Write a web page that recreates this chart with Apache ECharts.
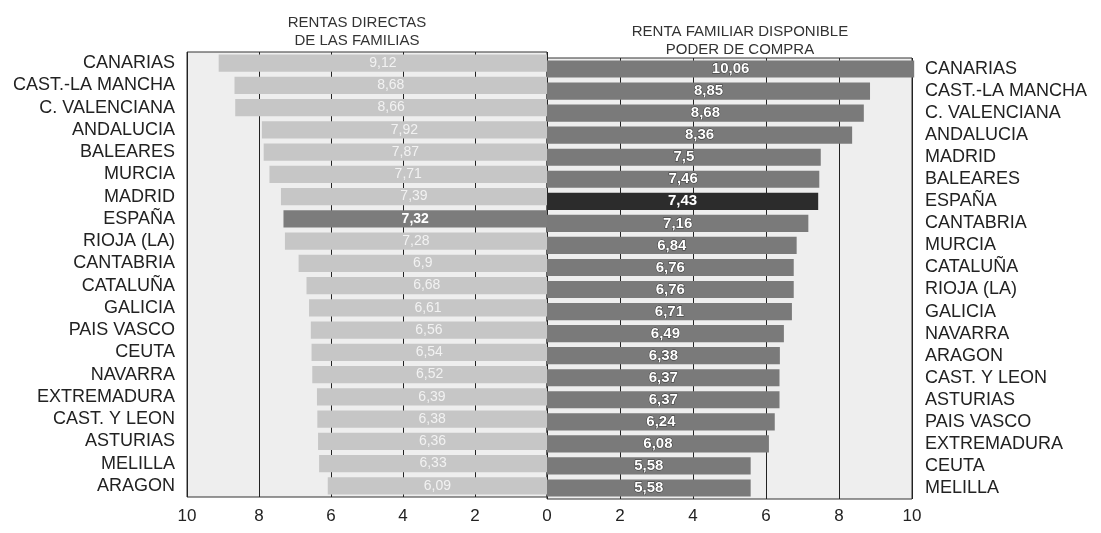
<!DOCTYPE html>
<html>
<head>
<meta charset="utf-8">
<script src="https://cdn.jsdelivr.net/npm/echarts@6/dist/echarts.min.js"></script>
<style>html,body{margin:0;padding:0;background:#fff;}#c{width:1101px;height:533px;}</style>
</head>
<body>
<div id="c"></div>
<script>
var leftTitle = 'RENTAS DIRECTAS\nDE LAS FAMILIAS';
var rightTitle = 'RENTA FAMILIAR DISPONIBLE\nPODER DE COMPRA';
var leftCategories = ['CANARIAS','CAST.-LA MANCHA','C. VALENCIANA','ANDALUCIA','BALEARES','MURCIA','MADRID','ESPAÑA','RIOJA (LA)','CANTABRIA','CATALUÑA','GALICIA','PAIS VASCO','CEUTA','NAVARRA','EXTREMADURA','CAST. Y LEON','ASTURIAS','MELILLA','ARAGON'];
var leftValues = [9.12,8.68,8.66,7.92,7.87,7.71,7.39,7.32,7.28,6.9,6.68,6.61,6.56,6.54,6.52,6.39,6.38,6.36,6.33,6.09];
var rightCategories = ['CANARIAS','CAST.-LA MANCHA','C. VALENCIANA','ANDALUCIA','MADRID','BALEARES','ESPAÑA','CANTABRIA','MURCIA','CATALUÑA','RIOJA (LA)','GALICIA','NAVARRA','ARAGON','CAST. Y LEON','ASTURIAS','PAIS VASCO','EXTREMADURA','CEUTA','MELILLA'];
var rightValues = [10.06,8.85,8.68,8.36,7.5,7.46,7.43,7.16,6.84,6.76,6.76,6.71,6.49,6.38,6.37,6.37,6.24,6.08,5.58,5.58];
var highlight = 'ESPAÑA';

var fontFam = 'Liberation Sans, Arial, sans-serif';
function fmt(v){ return String(v).replace('.', ','); }

var leftData = leftValues.map(function(v,i){
  var hl = leftCategories[i] === highlight;
  return {value:v, itemStyle:{color: hl ? '#7c7c7c' : '#c6c6c6'},
    label:{color: hl ? '#ffffff' : '#f2f2f2', fontWeight: hl ? 'bold':'normal'}};
});
var rightData = rightValues.map(function(v,i){
  var hl = rightCategories[i] === highlight;
  return {value:v, itemStyle:{color: hl ? '#2c2c2c' : '#7a7a7a'}};
});

var chart = echarts.init(document.getElementById('c'), null, {renderer:'canvas'});
chart.setOption({
  backgroundColor:'#ffffff',
  animation:false,
  title:[
    {text:leftTitle, left:352, top:9, textAlign:'center',
     textStyle:{fontFamily:fontFam, fontSize:15, fontWeight:'normal', color:'#333', lineHeight:18}},
    {text:rightTitle, left:735, top:18, textAlign:'center',
     textStyle:{fontFamily:fontFam, fontSize:15, fontWeight:'normal', color:'#333', lineHeight:18}}
  ],
  grid:[
    {left:187, right:554, top:52, height:445, show:true, backgroundColor:'#eeeeee', borderColor:'#333', borderWidth:1},
    {left:547, right:189, top:58, height:441, show:true, backgroundColor:'#eeeeee', borderColor:'#333', borderWidth:1}
  ],
  xAxis:[
    {gridIndex:0, type:'value', min:0, max:10, interval:2, inverse:true,
     axisLine:{show:false}, axisTick:{show:false},
     splitLine:{show:true, lineStyle:{color:'#222', width:1}},
     axisLabel:{fontFamily:fontFam, fontSize:17, color:'#222', margin:11}},
    {gridIndex:1, type:'value', min:0, max:10, interval:2,
     axisLine:{show:false}, axisTick:{show:false},
     splitLine:{show:true, lineStyle:{color:'#222', width:1}},
     axisLabel:{fontFamily:fontFam, fontSize:17, color:'#222', margin:9,
       formatter:function(v){ return v===0 ? '' : String(v); }}}
  ],
  yAxis:[
    {gridIndex:0, type:'category', data:leftCategories, inverse:true, position:'left',
     axisLine:{show:false}, axisTick:{show:false},
     axisLabel:{interval:0, hideOverlap:false, fontFamily:fontFam, fontSize:18, color:'#222', margin:12}},
    {gridIndex:1, type:'category', data:rightCategories, inverse:true, position:'right',
     axisLine:{show:false}, axisTick:{show:false},
     axisLabel:{interval:0, hideOverlap:false, fontFamily:fontFam, fontSize:18, color:'#222', margin:13}}
  ],
  series:[
    {type:'bar', xAxisIndex:0, yAxisIndex:0, data:leftData, barCategoryGap:'22%', clip:false, z:3,
     label:{show:true, position:'inside', fontFamily:fontFam, fontSize:14,
       formatter:function(p){ return fmt(p.value); }}},
    {type:'bar', xAxisIndex:1, yAxisIndex:1, data:rightData, barCategoryGap:'22%', clip:false, z:3,
     label:{show:true, position:'inside', fontFamily:fontFam, fontSize:15, fontWeight:'bold', color:'#fff',
       textBorderColor:'#333', textBorderWidth:1,
       formatter:function(p){ return fmt(p.value); }}}
  ]
});
</script>
</body>
</html>
